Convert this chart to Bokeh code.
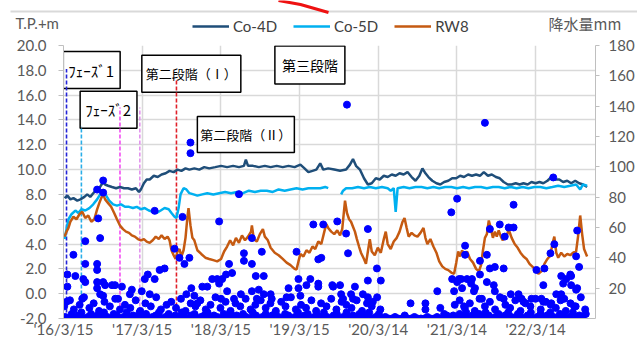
import numpy as np
import pandas as pd
from bokeh.plotting import figure
from bokeh.layouts import column
from bokeh.models import (Range1d, LinearAxis, FixedTicker, NumeralTickFormatter,
                          Label, Legend, LegendItem, ColumnDataSource)
from bokeh.embed import file_html
from bokeh.resources import INLINE

# ---------------- data ----------------
START = "2016-03-15"   # day 0
X_END_DAY = 2468

tick_dates = ["2016-03-15", "2017-03-15", "2018-03-15", "2019-03-15",
              "2020-03-14", "2021-03-14", "2022-03-14"]
tick_labels = ["'16/3/15", "'17/3/15", "'18/3/15", "'19/3/15",
               "'20/3/14", "'21/3/14", "'22/3/14"]
left_ticks = [-2, 0, 2, 4, 6, 8, 10, 12, 14, 16, 18, 20]
rain_ticks = [20, 40, 60, 80, 100, 120, 140, 160, 180]

co4d_day = [5, 18, 32, 46, 64, 78, 97, 110, 124, 143, 156, 170, 184, 193, 207, 225, 244, 262, 281, 299,
            317, 336, 350, 359, 373, 386, 400, 419, 437, 455, 474, 492, 511, 529, 547, 566, 584, 607, 630, 653,
            676, 704, 731, 759, 787, 814, 837, 846, 856, 879, 906, 934, 961, 989, 1017, 1044, 1072, 1099, 1118, 1136,
            1155, 1173, 1191, 1205, 1228, 1256, 1283, 1311, 1329, 1343, 1357, 1375, 1394, 1412, 1430, 1449, 1467, 1486, 1504, 1523,
            1541, 1559, 1578, 1596, 1615, 1633, 1651, 1665, 1679, 1693, 1711, 1730, 1748, 1766, 1785, 1803, 1822, 1840, 1858, 1877,
            1895, 1914, 1932, 1950, 1969, 1987, 2006, 2024, 2042, 2061, 2079, 2098, 2116, 2134, 2153, 2171, 2190, 2208, 2226, 2245,
            2263, 2282, 2300, 2318, 2337, 2355, 2374, 2392, 2410, 2429]
co4d_val = [7.7, 7.9, 7.6, 7.7, 7.5, 7.6, 7.8, 8.0, 7.8, 8.2, 8.4, 8.6, 9.0, 8.8, 8.7, 8.6, 8.5, 8.6, 8.5, 8.5,
            8.4, 8.5, 8.2, 8.4, 8.9, 9.2, 9.2, 9.5, 9.4, 9.6, 9.7, 9.9, 9.8, 10.0, 9.9, 10.1, 10.0, 10.1, 10.0, 10.2,
            10.1, 10.2, 10.3, 10.2, 10.3, 10.2, 10.3, 10.8, 10.3, 10.3, 10.2, 10.3, 10.2, 10.3, 10.2, 10.3, 10.2, 10.4, 10.1, 9.8,
            9.9, 10.0, 10.5, 10.0, 10.1, 10.0, 9.9, 10.0, 10.4, 10.85, 10.3, 10.0, 9.3, 8.8, 8.9, 9.3, 9.2, 9.5, 9.4, 9.6,
            9.5, 9.7, 9.6, 9.8, 9.4, 9.1, 9.5, 10.1, 9.7, 9.4, 9.1, 8.9, 8.8, 9.0, 9.1, 9.3, 9.3, 9.5, 9.4, 9.6,
            9.5, 9.6, 9.5, 9.8, 9.5, 9.6, 9.4, 9.3, 9.0, 8.8, 8.8, 8.9, 8.8, 8.9, 8.8, 9.0, 8.9, 9.0, 8.9, 9.1,
            9.4, 9.2, 9.2, 9.0, 9.1, 8.9, 9.1, 8.9, 8.8, 8.6]

co5d_day = [5, 14, 23, 37, 55, 69, 83, 101, 120, 138, 156, 170, 184, 198, 212, 230, 248, 267, 285, 304,
            322, 340, 359, 377, 396, 414, 432, 451, 469, 488, 501, 515, 524, 534, 543, 557, 570, 584, 603, 621,
            644, 667, 695, 722, 750, 777, 805, 833, 860, 888, 915, 943, 971, 998, 1026, 1053, 1081, 1109, 1136, 1164,
            1191, 1214, 1228, 1250, 1288, 1297, 1311, 1339, 1366, 1394, 1421, 1449, 1477, 1504, 1518, 1532, 1541, 1550, 1578, 1605,
            1633, 1661, 1688, 1716, 1743, 1771, 1799, 1826, 1854, 1881, 1909, 1937, 1964, 1992, 2019, 2047, 2075, 2102, 2130, 2157,
            2185, 2212, 2240, 2268, 2295, 2323, 2351, 2378, 2397, 2410, 2429]
co5d_val = [4.4, 5.2, 6.0, 6.4, 6.7, 6.5, 6.8, 6.7, 6.9, 7.2, 7.6, 8.0, 8.3, 7.9, 7.5, 7.2, 7.1, 7.2, 7.0, 7.0,
            6.9, 7.0, 6.8, 6.9, 6.7, 6.6, 6.5, 6.7, 6.9, 6.8, 6.5, 6.2, 6.1, 6.9, 8.0, 8.5, 8.4, 8.1, 8.0, 7.9,
            8.0, 8.1, 8.0, 8.1, 8.2, 8.1, 8.2, 8.1, 8.3, 8.2, 8.3, 8.3, 8.2, 8.4, 8.3, 8.4, 8.5, 8.4, 8.5, 8.5,
            8.5, 8.6, 8.5, float("nan"), 8.0, 8.3, 8.5, 8.5, 8.6, 8.5, 8.6, 8.5, 8.6, 8.5, 8.3, 8.5, 6.6, 8.5, 8.6, 8.5,
            8.6, 8.6, 8.5, 8.6, 8.5, 8.6, 8.6, 8.5, 8.6, 8.5, 8.6, 8.6, 8.5, 8.6, 8.6, 8.5, 8.6, 8.5, 8.6, 8.5,
            8.6, 8.6, 8.5, 8.6, 8.7, 8.6, 8.7, 8.8, 8.4, 8.8, 8.7]

rw8_day = [5, 14, 23, 32, 46, 60, 74, 87, 101, 115, 129, 143, 156, 166, 175, 184, 193, 207, 221, 235,
           248, 262, 276, 290, 304, 317, 331, 345, 359, 373, 386, 400, 414, 428, 442, 455, 469, 483, 492, 501,
           511, 520, 529, 538, 547, 557, 566, 575, 580, 589, 598, 607, 621, 639, 658, 676, 695, 713, 731, 745,
           759, 773, 787, 800, 814, 828, 842, 856, 870, 874, 883, 897, 911, 925, 934, 948, 961, 980, 998, 1017,
           1035, 1053, 1072, 1081, 1090, 1099, 1113, 1127, 1141, 1155, 1168, 1182, 1196, 1210, 1219, 1228, 1242, 1256, 1270, 1283,
           1293, 1302, 1306, 1315, 1325, 1334, 1343, 1352, 1361, 1371, 1380, 1394, 1403, 1412, 1421, 1430, 1444, 1458, 1472, 1486,
           1495, 1504, 1518, 1532, 1546, 1559, 1573, 1582, 1592, 1601, 1615, 1628, 1642, 1656, 1670, 1679, 1688, 1702, 1716, 1730,
           1743, 1757, 1771, 1785, 1799, 1812, 1822, 1831, 1840, 1849, 1858, 1872, 1886, 1900, 1914, 1927, 1937, 1946, 1955, 1964,
           1973, 1983, 1992, 2001, 2010, 2019, 2029, 2038, 2047, 2056, 2065, 2079, 2093, 2107, 2120, 2134, 2148, 2162, 2180, 2190,
           2203, 2217, 2231, 2245, 2259, 2268, 2277, 2286, 2295, 2309, 2323, 2337, 2351, 2364, 2378, 2387, 2397, 2406, 2415, 2429]
rw8_val = [4.6, 5.0, 5.3, 5.8, 6.2, 6.0, 6.4, 6.6, 6.1, 6.3, 5.8, 6.0, 6.8, 7.3, 7.7, 8.0, 7.6, 7.3, 7.0, 6.5,
           6.0, 5.5, 5.2, 5.0, 4.9, 4.7, 4.6, 4.4, 4.3, 4.4, 4.2, 4.1, 4.3, 4.6, 4.4, 4.7, 4.4, 4.6, 4.3, 3.5,
           3.1, 2.8, 3.4, 3.6, 3.0, 3.5, 4.5, 6.2, 6.9, 5.5, 4.5, 4.3, 3.5, 3.2, 2.9, 2.8, 2.7, 2.6, 2.8, 3.4,
           3.8, 4.3, 3.9, 4.5, 4.1, 4.7, 4.3, 4.6, 5.0, 5.5, 4.4, 4.2, 4.8, 5.2, 4.6, 4.3, 3.7, 3.3, 3.1, 2.8,
           2.5, 2.3, 2.0, 1.95, 2.6, 3.2, 3.0, 3.5, 3.3, 3.8, 3.6, 4.2, 4.0, 5.0, 5.6, 5.3, 5.0, 4.8, 5.1, 4.7,
           5.2, 6.8, 7.5, 6.5, 6.0, 5.8, 5.4, 5.0, 4.4, 3.8, 3.3, 2.8, 2.4, 3.4, 4.4, 3.4, 3.1, 3.7, 3.3, 4.4,
           5.0, 4.0, 3.6, 4.2, 4.5, 5.0, 5.8, 6.1, 5.3, 4.6, 4.9, 4.7, 4.6, 4.9, 5.3, 4.5, 4.0, 4.4, 3.8, 3.3,
           2.6, 2.2, 2.0, 1.9, 1.7, 1.6, 2.5, 3.4, 3.0, 3.5, 3.1, 3.4, 2.8, 2.5, 2.0, 1.8, 2.3, 3.5, 4.5, 4.8,
           5.9, 5.2, 4.5, 5.0, 4.6, 5.1, 4.6, 4.3, 4.8, 4.6, 5.2, 4.5, 4.0, 3.7, 3.3, 3.0, 2.8, 2.4, 2.1, 1.9,
           1.6, 1.8, 2.4, 2.8, 3.1, 4.0, 4.6, 3.3, 2.9, 3.3, 3.0, 3.2, 3.1, 3.3, 3.4, 4.6, 6.3, 4.8, 3.6, 3.0]

# daily precipitation (mm): larger events
rain_day = [18, 18, 14, 46, 55, 92, 101, 101, 87, 101, 156, 156, 156, 156, 156, 161, 170, 170, 184, 184, 184, 184, 193,
            225, 239, 253, 271, 308, 317, 363, 377, 391, 400, 423, 423, 446, 469, 515, 538, 552, 561, 570, 584,
            589, 589, 593, 607, 621, 644, 667, 690, 713, 722, 722, 731, 736, 754, 759, 768, 782, 791, 814, 823, 837, 837,
            874, 874, 874, 892, 897, 906, 920, 929, 929, 961, 966, 1035, 1044, 1081, 1090, 1090, 1099, 1127, 1145, 1159,
            1182, 1182, 1182, 1196, 1205, 1247, 1251, 1270, 1283, 1288, 1297, 1311, 1315, 1320, 1334, 1343, 1352,
            1389, 1412, 1412, 1412, 1435, 1454, 1472, 1610, 1679, 1679, 1734, 1748, 1766, 1799, 1803, 1812, 1826, 1826,
            1835, 1845, 1849, 1858, 1863, 1863, 1872, 1891, 1895, 1904, 1909, 1932, 1932, 1941, 1955, 1964, 1964,
            1978, 1978, 1996, 2001, 2001, 2024, 2042, 2042, 2047, 2065, 2075, 2088, 2088, 2111, 2125, 2134, 2171,
            2194, 2217, 2226, 2226, 2231, 2259, 2263, 2272, 2277, 2286, 2309, 2309, 2318, 2323, 2332, 2351, 2355,
            2355, 2369, 2378, 2378, 2383, 2383, 2392]
rain_mm = [29, 21, 11, 42, 28, 26, 51, 36, 13, 24, 36, 32, 24, 20, 85, 66, 53, 16, 91, 83, 15, 24, 22,
           22, 22, 13, 21, 16, 19, 18, 26, 29, 16, 26, 71, 32, 33, 46, 40, 67, 36, 16, 40,
           116, 109, 20, 15, 10, 21, 21, 26, 26, 64, 23, 13, 26, 29, 18, 36, 30, 13, 82, 16, 43, 38,
           53, 36, 18, 28, 13, 19, 44, 28, 16, 16, 13, 14, 20, 44, 20, 26, 15, 22, 26, 62,
           39, 23, 21, 40, 62, 22, 21, 64, 22, 16, 13, 56, 141, 43, 16, 13, 21,
           16, 59, 14, 25, 11, 33, 25, 10, 10, 6, 18, 7, 3, 70, 26, 18, 79, 24,
           26, 26, 20, 8, 48, 42, 26, 23, 26, 18, 20, 38, 29, 13, 129, 42, 24,
           59, 33, 22, 34, 18, 62, 33, 13, 54, 60, 16, 60, 75, 16, 13, 11, 13,
           32, 13, 22, 11, 33, 43, 10, 93, 49, 16, 28, 16, 23, 13, 26, 29, 28,
           22, 8, 41, 19, 58, 20, 34]

# daily precipitation (mm): light rain days
light_day = [3, 30, 48, 75, 95, 120, 140, 165, 190, 215, 240, 262, 285, 310, 335, 356, 380, 405, 430, 452,
             478, 500, 522, 545, 566, 590, 612, 635, 660, 682, 705, 728, 752, 775, 798, 820, 845, 868, 890, 915,
             938, 960, 985, 1010, 1030, 1055, 1078, 1102, 1125, 1150, 1172, 1195, 1220, 1242, 1266, 1290, 1312, 1336, 1360, 1385,
             1408, 1430, 1455, 1470,
             1815, 1838, 1862, 1885, 1908, 1930, 1955, 1978, 2002, 2025, 2050, 2072, 2096, 2120, 2143, 2166, 2190, 2214, 2238, 2260,
             2284, 2306, 2330, 2352, 2376, 2400, 2420]
light_mm = [8, 12, 6, 9, 14, 7, 10, 5, 11, 8, 13, 6, 9, 7, 12, 5, 10, 8, 14, 6,
            9, 11, 7, 13, 5, 10, 8, 12, 6, 9, 14, 7, 11, 5, 10, 8, 13, 6, 9, 12,
            7, 10, 5, 11, 8, 14, 6, 9, 7, 12, 5, 10, 8, 13, 6, 11, 9, 7, 12, 5,
            10, 8, 14, 6,
            9, 12, 7, 10, 5, 13, 8, 11, 6, 14, 9, 7, 12, 5, 10, 8, 13, 6, 11, 9,
            7, 12, 5, 10, 8, 14, 6]

# daily precipitation (mm): dry / drizzle days forming the band near zero
band_day = [8, 23, 38, 53, 68, 83, 98, 113, 128, 143, 158, 173, 188, 203, 218, 233, 248, 263, 278, 293,
            308, 323, 338, 353, 368, 383, 398, 413, 428, 443, 458, 473, 488, 503, 518, 533, 548, 563, 578, 593,
            608, 623, 638, 653, 668, 683, 698, 713, 728, 743, 758, 773, 788, 803, 818, 833, 848, 863, 878, 893,
            908, 923, 938, 953, 968, 983, 998, 1013, 1028, 1043, 1058, 1073, 1088, 1103, 1118, 1133, 1148, 1163, 1178, 1193,
            1208, 1223, 1238, 1253, 1268, 1283, 1298, 1313, 1328, 1343, 1358, 1373, 1388, 1403, 1418, 1433, 1448, 1463,
            1478, 1493, 1508, 1523, 1538, 1553, 1568, 1583, 1598, 1613, 1628, 1643, 1658, 1673, 1688, 1703, 1718, 1733, 1748, 1763, 1778, 1793,
            1808, 1823, 1838, 1853, 1868, 1883, 1898, 1913, 1928, 1943, 1958, 1973, 1988, 2003, 2018, 2033, 2048, 2063, 2078, 2093,
            2108, 2123, 2138, 2153, 2168, 2183, 2198, 2213, 2228, 2243, 2258, 2273, 2288, 2303, 2318, 2333, 2348, 2363, 2378, 2393, 2408, 2423]
band_mm = [1, 0, 3, 0, 2, 4, 0, 1, 3, 0, 2, 0, 4, 1, 0, 3, 2, 0, 1, 4,
           0, 2, 1, 4, 0, 3, 0, 1, 2, 4, 0, 1, 3, 0, 2, 0, 4, 1, 0, 2,
           3, 0, 1, 2, 4, 0, 2, 1, 0, 3, 1, 4, 0, 2, 0, 3, 1, 0, 4, 2,
           0, 1, 3, 0, 2, 4, 1, 0, 3, 2, 0, 1, 4, 0, 2, 3, 0, 1, 2, 0,
           4, 1, 0, 2, 3, 0, 1, 4, 0, 2, 1, 3, 0, 2, 4, 0, 1, 3,
           0, 1, 0, 0, 1, 0, 0, 2, 0, 0, 1, 0, 0, 0, 1, 0, 0, 1, 0, 0, 2, 0,
           2, 0, 3, 1, 4, 0, 2, 1, 3, 0, 4, 2, 0, 1, 3, 0, 2, 4, 1, 0,
           3, 1, 0, 2, 4, 0, 1, 3, 0, 2, 4, 1, 0, 3, 2, 0, 1, 4, 0, 2, 1, 3]

# construction stage markers
stage_day = [14, 83, 262, 354, 524]
stage_top = [18.1, 13.5, 15.0, 15.0, 17.3]
stage_color = ["#2424D8", "#2AAEE8", "#F24CF2", "#E394EE", "#E0202A"]

series_names = ["Co-4D", "Co-5D", "RW8"]
series_colors = ["#1F4E79", "#00B0F0", "#C55A11"]

# ---------------- helpers ----------------
t0 = pd.Timestamp(START)


def to_dt(days):
    return t0 + pd.to_timedelta(np.asarray(days, dtype=float), unit="D")


def ms(day):
    return (t0 + pd.Timedelta(days=day)).value / 1e6


GRID = "#D9D9D9"
TXT = "#595959"
FONT = "Lato"
JP = "Noto Sans CJK JP"
W = 637
TOTAL_H = 340
HEAD_H = 35

# ---------------- header (legend, axis titles) ----------------
head = figure(width=W, height=HEAD_H, x_range=Range1d(0, W), y_range=Range1d(HEAD_H, 0),
              output_backend="svg", toolbar_location=None, min_border=0,
              x_axis_location=None, y_axis_location=None)
head.frame_align = False
head.grid.visible = False
head.outline_line_color = None
head.background_fill_color = "white"
head.border_fill_color = "white"

head.line([10, W], [11, 11], line_color="#D9D9D9", line_width=2)
head.line([278, 300, 328], [0, 4, 12], line_color="#EE1111", line_width=3)

dummies = [head.line([np.nan], [np.nan], line_color=c, line_width=2.5) for c in series_colors]
legend = Legend(items=[LegendItem(label=n, renderers=[r]) for n, r in zip(series_names, dummies)],
                orientation="horizontal", location=(192, 0),
                background_fill_alpha=0, border_line_alpha=0, padding=0, margin=0,
                spacing=16, glyph_width=37, glyph_height=14, label_height=14, label_standoff=4,
                label_text_font=FONT, label_text_font_size="15px", label_text_color="#404040",
                label_text_baseline="middle")
head.add_layout(legend)
head.add_layout(Label(x=15, y=22, text="T.P.+m", text_font=FONT, text_font_size="15px",
                      text_color=TXT, text_align="left", text_baseline="middle"))
head.add_layout(Label(x=548, y=23, text="降水量mm", text_font=JP, text_font_size="15px",
                      text_color=TXT, text_align="left", text_baseline="middle"))

# ---------------- main chart ----------------
p = figure(width=W, height=TOTAL_H - HEAD_H, x_axis_type="datetime",
           x_range=Range1d(t0, t0 + pd.Timedelta(days=X_END_DAY)),
           y_range=Range1d(-2, 20),
           output_backend="svg", toolbar_location=None,
           min_border_left=63, min_border_right=20, min_border_top=10, min_border_bottom=0)
p.frame_align = False
p.extra_y_ranges = {"rain": Range1d(0, 180)}
p.outline_line_color = None
p.background_fill_color = "white"
p.border_fill_color = "white"

tick_ms = [pd.Timestamp(d).value / 1e6 for d in tick_dates]
p.xaxis.ticker = FixedTicker(ticks=tick_ms)
p.xaxis.major_label_overrides = {t: l for t, l in zip(tick_ms, tick_labels)}
p.xaxis.major_tick_out = 0
p.xaxis.major_tick_in = 0
p.xaxis.minor_tick_line_color = None
p.xaxis.major_label_standoff = 1
p.xaxis.axis_line_color = "#BFBFBF"

p.yaxis.ticker = FixedTicker(ticks=left_ticks)
p.yaxis.formatter = NumeralTickFormatter(format="0.0")
p.yaxis.major_tick_out = 5
p.yaxis.major_tick_in = 0
p.yaxis.major_label_standoff = 12
p.yaxis.minor_tick_line_color = None
p.yaxis.axis_line_color = "#BFBFBF"
p.yaxis.major_tick_line_color = "#BFBFBF"

ry = LinearAxis(y_range_name="rain", ticker=FixedTicker(ticks=rain_ticks))
ry.major_tick_out = 4
ry.major_tick_in = 0
ry.major_label_standoff = 9
ry.minor_tick_line_color = None
ry.axis_line_color = "#BFBFBF"
ry.major_tick_line_color = "#BFBFBF"
p.add_layout(ry, "right")

for ax in [p.xaxis[0], p.yaxis[0], ry]:
    ax.major_label_text_font = FONT
    ax.major_label_text_font_size = "15px"
    ax.major_label_text_color = TXT

p.xgrid.grid_line_color = GRID
p.ygrid.grid_line_color = GRID
p.xgrid.grid_line_width = 1.5
p.ygrid.grid_line_width = 1.5

# stage boxes
boxes = [("ﾌｪｰｽﾞ1", 131, 18.02, 15, dict(left=5, right=6, top=8, bottom=8)),
         ("ﾌｪｰｽﾞ2", 209, 14.82, 15, dict(left=5, right=6, top=8, bottom=8)),
         ("第二段階（Ⅰ）", 593, 17.73, 13, dict(left=4, right=4, top=9, bottom=9)),
         ("第三段階", 1143, 18.42, 14, dict(left=7, right=7, top=9, bottom=9)),
         ("第二段階（Ⅱ）", 846, 12.83, 13, dict(left=3, right=3, top=9, bottom=8))]
for txt, d, v, fs, pad in boxes:
    p.add_layout(Label(x=ms(d), y=v, text=txt, text_align="center", text_baseline="middle",
                       text_font=JP, text_font_size=f"{fs}px", text_color="#000000",
                       background_fill_color="white", border_line_color="#000000",
                       border_line_width=1.5, padding=pad, level="underlay"))

# stage lines
seg = ColumnDataSource(dict(x=to_dt(stage_day), y0=[-2] * len(stage_day), y1=stage_top, c=stage_color))
p.segment(x0="x", y0="y0", x1="x", y1="y1", line_color="c", line_dash="4 2", line_width=1.6, source=seg)

# series lines
vals = [(co4d_day, co4d_val), (co5d_day, co5d_val), (rw8_day, rw8_val)]
for (dd, vv), c, n in zip(vals, series_colors, series_names):
    p.line(to_dt(dd), vv, line_color=c, line_width=2.5, name=n)

# precipitation
for dd, mm in [(band_day, band_mm), (light_day, light_mm), (rain_day, rain_mm)]:
    p.scatter(to_dt(dd), mm, y_range_name="rain", size=7, color="#0000FF")

layout = column(head, p, spacing=0)
open("out.html", "w").write(file_html(layout, INLINE))
